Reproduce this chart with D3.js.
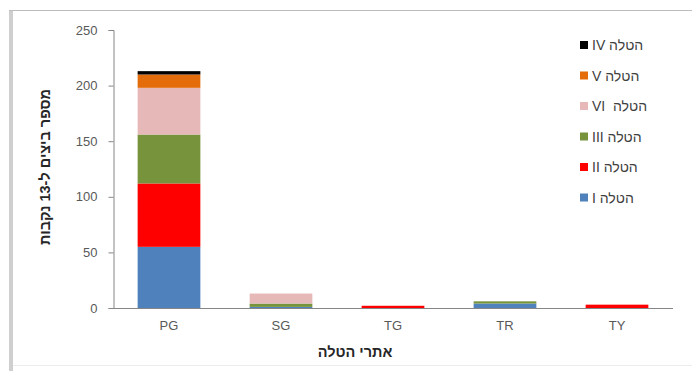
<!DOCTYPE html>
<html>
<head>
<meta charset="utf-8">
<script src="https://cdn.jsdelivr.net/npm/d3@7"></script>
<style>
	body { margin: 0; background: #fff; }
	svg { display: block; font-family: "Liberation Sans", Arial, sans-serif; }
	.leg text { white-space: pre; }
</style>
</head>
<body>
<div id="chart"></div>
<script>
// sites on the x axis
var sites = ["PG", "SG", "TG", "TR", "TY"];
// series, bottom of the stack first
var seriesNames = ["הטלה I", "הטלה II", "הטלה III", "הטלה  VI", "הטלה V", "הטלה IV"];
var seriesColors = ["#4f81bd", "#ff0000", "#77933c", "#e6b9b8", "#e46c0a", "#000000"];
var layI   = [55, 1, 0, 4, 0];
var layII  = [57, 0, 2, 0, 3];
var layIII = [44, 3, 0, 2, 0];
var layVI  = [42, 9, 0, 0, 0];
var layV   = [12, 0, 0, 0, 0];
var layIV  = [3, 0, 0, 0, 0];
var yTicks = [0, 50, 100, 150, 200, 250];
// legend is listed top-down in this order
var legendOrder = [5, 4, 3, 2, 1, 0];

var W = 692, H = 371;
var svg = d3.select("#chart").append("svg")
	.attr("width", W)
	.attr("height", H);

// frame
svg.append("rect").attr("x", 9).attr("y", 10).attr("width", 4).attr("height", H - 10).attr("fill", "#cfcfcf");
svg.append("line").attr("x1", 9).attr("x2", W).attr("y1", 10.5).attr("y2", 10.5).attr("stroke", "#bdbdbd");
svg.append("line").attr("x1", 13).attr("x2", W).attr("y1", 365.5).attr("y2", 365.5).attr("stroke", "#ececec");

var x = d3.scaleBand().domain(sites).range([113, 673]).paddingInner(0.44).paddingOuter(0.22);
var y = d3.scaleLinear().domain([0, 250]).range([308, 30]);

var layers = [layI, layII, layIII, layVI, layV, layIV];
var rows = sites.map(function(s, i){
	var r = { site: s };
	layers.forEach(function(l, k){ r[k] = l[i]; });
	return r;
});
var stack = d3.stack().keys(d3.range(layers.length))(rows);

svg.append("g").selectAll("g").data(stack).enter().append("g")
	.attr("fill", function(d){ return seriesColors[d.key]; })
	.selectAll("rect").data(function(d){ return d; }).enter().append("rect")
	.attr("x", function(d){ return x(d.data.site); })
	.attr("width", x.bandwidth())
	.attr("y", function(d){ return y(d[1]); })
	.attr("height", function(d){ return y(d[0]) - y(d[1]); });

// y axis
var yAxis = svg.append("g").attr("transform", "translate(113.5,0)")
	.call(d3.axisLeft(y).tickValues(yTicks).tickSize(5).tickPadding(11));
yAxis.select(".domain").attr("stroke", "#868686");
yAxis.selectAll(".tick line").attr("stroke", "#868686");
yAxis.selectAll("text").attr("fill", "#595959").style("font-size", "13px");

// x axis
var xAxis = svg.append("g").attr("transform", "translate(0,308.5)")
	.call(d3.axisBottom(x).tickSize(0).tickPadding(12));
xAxis.select(".domain").attr("stroke", "#868686").attr("d", "M113,0H673");
xAxis.selectAll("text").attr("fill", "#595959").style("font-size", "13px");

// titles
svg.append("text")
	.attr("transform", "translate(50,167) rotate(-90)")
	.attr("text-anchor", "middle")
	.attr("direction", "rtl")
	.attr("font-size", 14.5).attr("font-weight", "bold").attr("fill", "#262626")
	.text("מספר ביצים ל-13 נקבות");
svg.append("text")
	.attr("x", 355).attr("y", 357)
	.attr("text-anchor", "middle")
	.attr("direction", "rtl")
	.attr("font-size", 14.5).attr("font-weight", "bold").attr("fill", "#262626")
	.text("אתרי הטלה");

// legend
var legend = svg.append("g").attr("class", "leg").selectAll("g").data(legendOrder).enter().append("g")
	.attr("transform", function(d, i){ return "translate(580," + (45 + i * 30.5) + ")"; });
legend.append("rect").attr("x", 0).attr("y", -4).attr("width", 8).attr("height", 8)
	.attr("fill", function(d){ return seriesColors[d]; });
legend.append("text")
	.attr("x", 12).attr("y", 5)
	.attr("direction", "rtl")
	.attr("text-anchor", "end")
	.attr("font-size", 14).attr("fill", "#404040")
	.text(function(d){ return seriesNames[d]; });
</script>
</body>
</html>
